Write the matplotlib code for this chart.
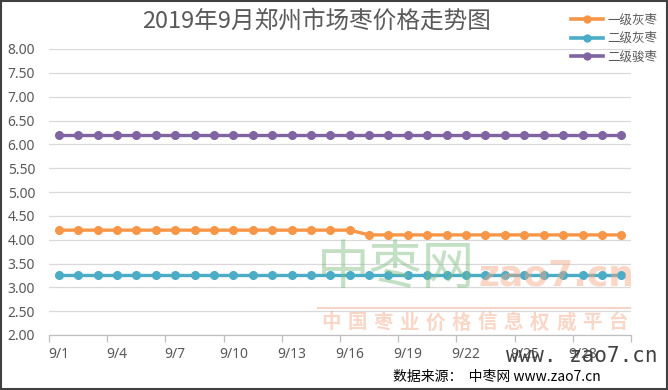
import matplotlib
matplotlib.use("Agg")
import matplotlib.pyplot as plt
from matplotlib.patches import Rectangle
from matplotlib.lines import Line2D

plt.rcParams['font.family'] = ['Noto Sans CJK SC', 'DejaVu Sans']

dates = [f"9/{d}" for d in range(1, 31)]
s1_name = "一级灰枣"
s2_name = "二级灰枣"
s3_name = "二级骏枣"
s1 = [4.2] * 16 + [4.1] * 14
s2 = [3.25] * 30
s3 = [6.2] * 30
yticks = [2.0, 2.5, 3.0, 3.5, 4.0, 4.5, 5.0, 5.5, 6.0, 6.5, 7.0, 7.5, 8.0]
title = "2019年9月郑州市场枣价格走势图"
slogan = "中国枣业价格信息权威平台"

colors = ["#F79646", "#4BACC6", "#8064A2"]

fig = plt.figure(figsize=(6.68, 3.90), dpi=100)
ax = fig.add_axes([49/668, 55/390, 582/668, 286/390])

x = list(range(len(dates)))
for ys, c in zip([s1, s2, s3], colors):
    ax.plot(x, ys, color=c, lw=2.4, marker='o', ms=5.5, zorder=3)

ax.set_ylim(2.0, 8.0)
ax.set_xlim(-0.5, len(dates) - 0.5)
ax.set_yticks(yticks)
ax.set_yticklabels([f"{v:.2f}" for v in yticks], fontsize=10, color="#595959",
                   family=['Noto Sans', 'DejaVu Sans'])
ax.grid(axis='y', color="#D9D9D9", lw=0.9, zorder=0)
ax.set_xticks(x[::3])
ax.set_xticklabels(dates[::3], fontsize=10, color="#595959",
                   family=['Noto Sans', 'DejaVu Sans'])
ax.tick_params(axis='x', which='major', length=0, pad=9)
ax.set_xticks([i - 0.5 for i in range(0, len(dates) + 1, 3)], minor=True)
ax.tick_params(axis='x', which='minor', length=5, color="#BFBFBF", width=0.9)
ax.tick_params(axis='y', length=0, pad=10)
for sp in ['top', 'right', 'left']:
    ax.spines[sp].set_visible(False)
ax.spines['bottom'].set_color("#BFBFBF")
ax.spines['bottom'].set_linewidth(0.9)

fig.text(0.474, 0.945, title, ha='center', va='center', fontsize=17, color="#595959")

handles = [Line2D([0], [0], color=c, lw=2.6, marker='o', ms=5) for c in colors]
fig.legend(handles, [s1_name, s2_name, s3_name], loc='upper right',
           bbox_to_anchor=(0.995, 0.985), frameon=False, fontsize=9,
           labelcolor="#595959", handlelength=2.6, handletextpad=0.3,
           labelspacing=0.45, borderaxespad=0.2)

# watermark
fig.text(396/668, 1 - 268/390, "中枣网", ha='center', va='center', fontsize=38,
         color="#7DBB7D", alpha=0.45, zorder=5)
fig.text(556/668, 1 - 275/390, "zao7.cn", ha='center', va='center', fontsize=26,
         weight='bold', color="#F4A582", alpha=0.45, family=['DejaVu Sans'], zorder=5)
fig.add_artist(Line2D([318/668, 630/668], [1 - 308/390, 1 - 308/390],
                      color="#F4B6A0", lw=1.5, alpha=0.6))
n = len(slogan)
for i, ch in enumerate(slogan):
    cx = 331 + i * (618 - 331) / (n - 1)
    fig.text(cx/668, 1 - 323/390, ch, ha='center', va='center',
             fontsize=14, weight='bold', color="#F4A582", alpha=0.45, zorder=5)
fig.text(582/668, 1 - 356/390, "www. zao7.cn", ha='center', va='center', fontsize=15,
         color="#404040", family=['DejaVu Sans Mono'], zorder=6)
fig.text(497/668, 1 - 377/390, "数据来源：  中枣网 www.zao7.cn", ha='center', va='center',
         fontsize=10, color="#000000", zorder=6)

fig.add_artist(Rectangle((0.001, 0.002), 0.997, 0.995, transform=fig.transFigure,
                         fill=False, edgecolor="#404040", lw=1.5))

fig.savefig("out.png", dpi=100, facecolor="white")
